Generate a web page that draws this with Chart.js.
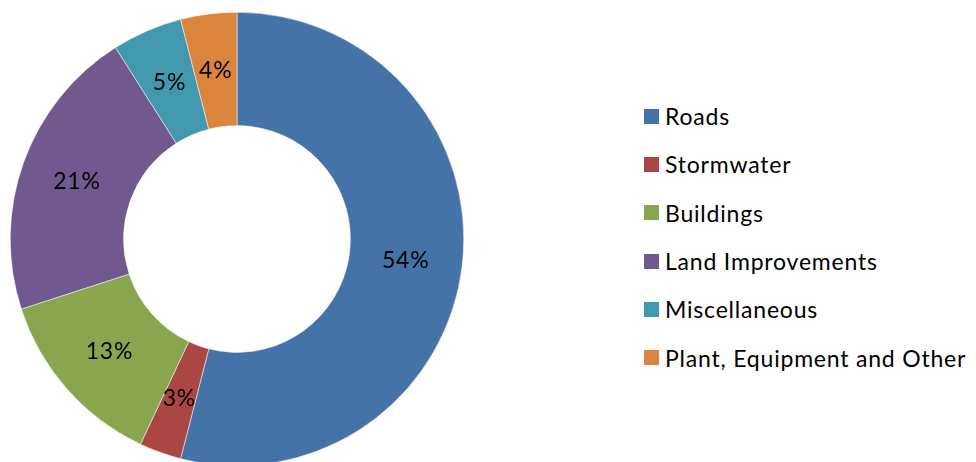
<!DOCTYPE html>
<html>
<head>
<meta charset="utf-8">
<script src="https://cdn.jsdelivr.net/npm/chart.js@4/dist/chart.umd.min.js"></script>
<style>
    html, body { margin: 0; padding: 0; background: #ffffff; overflow: hidden; }
    body { width: 976px; height: 462px; position: relative; font-family: Lato, "Liberation Sans", sans-serif; }
    #wrap { position: absolute; left: 0; top: 0; width: 474px; height: 466px; }
    #leyenda { position: absolute; left: 644px; top: 92px; margin: 0; padding: 0; list-style: none; }
    #leyenda li { height: 48.3px; display: flex; align-items: center; font-size: 23px; letter-spacing: 0.8px; color: #000; white-space: nowrap; }
    #leyenda span.caja { display: inline-block; width: 15px; height: 15px; margin-right: 6px; }
</style>
</head>
<body>
<div id="wrap"><canvas id="chartActivos"></canvas></div>
<ul id="leyenda"></ul>
<script>
// Categorías y porcentajes de la gráfica
const categorias = ["Roads", "Stormwater", "Buildings", "Land Improvements", "Miscellaneous", "Plant, Equipment and Other"];
const porcentajes = [54, 3, 13, 21, 5, 4];
const colores = ["#4572A7", "#AA4643", "#89A54E", "#71588F", "#4198AF", "#DB843D"];

// Etiquetas de porcentaje sobre cada segmento
const etiquetasPlugin = {
    id: 'etiquetas',
    afterDatasetsDraw(chart) {
        const ctx = chart.ctx;
        const meta = chart.getDatasetMeta(0);
        ctx.save();
        ctx.font = '23px Lato, "Liberation Sans", sans-serif';
        ctx.letterSpacing = '0.8px';
        ctx.fillStyle = '#000000';
        ctx.textAlign = 'center';
        ctx.textBaseline = 'middle';
        meta.data.forEach((arc, i) => {
            const pos = arc.tooltipPosition();
            ctx.fillText(porcentajes[i] + '%', pos.x, pos.y);
        });
        ctx.restore();
    }
};

const chart = new Chart(document.getElementById('chartActivos'), {
    type: 'doughnut',
    data: {
        labels: categorias,
        datasets: [{
            data: porcentajes,
            backgroundColor: colores,
            borderColor: '#ffffff',
            borderWidth: 0.5
        }]
    },
    options: {
        responsive: true,
        maintainAspectRatio: false,
        animation: false,
        cutout: '50%',
        layout: { padding: { left: 10, top: 12, right: 10, bottom: 0 } },
        plugins: {
            legend: { display: false },
            tooltip: { enabled: false }
        }
    },
    plugins: [etiquetasPlugin]
});

// Leyenda en HTML a la derecha
const lista = document.getElementById('leyenda');
categorias.forEach((nombre, i) => {
    const li = document.createElement('li');
    const caja = document.createElement('span');
    caja.className = 'caja';
    caja.style.background = colores[i];
    li.appendChild(caja);
    li.appendChild(document.createTextNode(nombre));
    lista.appendChild(li);
});
</script>
</body>
</html>
